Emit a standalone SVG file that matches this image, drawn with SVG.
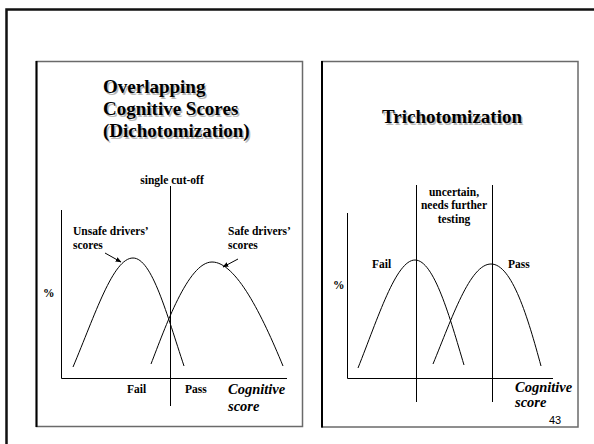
<svg xmlns="http://www.w3.org/2000/svg" width="594" height="444" viewBox="0 0 594 444">
  <style>
    .title { font-family: "Liberation Serif", "Times New Roman", serif; font-weight: bold; font-size: 19px; fill: #000; }
    .shadow { fill: #b8b8b8; }
    .lbl { font-family: "Liberation Serif", "Times New Roman", serif; font-weight: bold; font-size: 11.5px; fill: #000; }
    .axis-lbl { font-family: "Liberation Serif", "Times New Roman", serif; font-weight: bold; font-style: italic; font-size: 14.5px; fill: #000; }
    .num { font-family: "Liberation Sans", Arial, sans-serif; font-size: 11px; fill: #000; }
    .line { stroke: #000; stroke-width: 1; fill: none; }
    .curve { stroke: #000; stroke-width: 1; fill: none; }
    .panel { fill: #fff; stroke: #6a6a6a; stroke-width: 1.5; }
    .panel-edge { stroke: #000; stroke-width: 2; }
  </style>
  <defs>
    <marker id="arrow" viewBox="0 0 10 10" refX="9" refY="5" markerWidth="6" markerHeight="6" orient="auto" markerUnits="userSpaceOnUse">
      <path d="M0,1 L10,5 L0,9 Z" fill="#000"/>
    </marker>
  </defs>

  <rect width="594" height="444" fill="#fff"/>

  <!-- slide frame -->
  <g id="frame">
    <path d="M6.5,444 V9.5 H594" fill="none" stroke="#111" stroke-width="2.5"/>
  </g>

  <!-- left panel: dichotomization -->
  <g id="panel-dichotomization">
    <rect class="panel" x="36.5" y="61.5" width="266" height="365"/>
    <line class="panel-edge" x1="36.5" y1="61" x2="36.5" y2="427"/>
    <g transform="translate(1.5,1.5)">
      <text class="title shadow" x="103" y="93">Overlapping</text>
      <text class="title shadow" x="103" y="115">Cognitive Scores</text>
      <text class="title shadow" x="103" y="137">(Dichotomization)</text>
    </g>
    <text class="title" x="103" y="93">Overlapping</text>
    <text class="title" x="103" y="115">Cognitive Scores</text>
    <text class="title" x="103" y="137">(Dichotomization)</text>

    <text class="lbl" x="172" y="184" text-anchor="middle">single cut-off</text>
    <text class="lbl" x="73" y="235">Unsafe drivers’</text>
    <text class="lbl" x="73" y="248.5">scores</text>
    <text class="lbl" x="228" y="235">Safe drivers’</text>
    <text class="lbl" x="228" y="248.5">scores</text>
    <text class="lbl" x="43" y="297">%</text>
    <text class="lbl" x="127" y="393">Fail</text>
    <text class="lbl" x="185" y="393">Pass</text>
    <text class="axis-lbl" x="228" y="394">Cognitive</text>
    <text class="axis-lbl" x="228" y="411">score</text>
  </g>

  <!-- right panel: trichotomization -->
  <g id="panel-trichotomization">
    <rect class="panel" x="322" y="61.5" width="256" height="365.5"/>
    <line class="panel-edge" x1="322" y1="61" x2="322" y2="427.5"/>
    <text class="title shadow" x="453.5" y="124.5" text-anchor="middle">Trichotomization</text>
    <text class="title" x="452" y="123" text-anchor="middle">Trichotomization</text>

    <text class="lbl" x="454" y="195.5" text-anchor="middle">uncertain,</text>
    <text class="lbl" x="454" y="209" text-anchor="middle">needs further</text>
    <text class="lbl" x="454" y="222.5" text-anchor="middle">testing</text>
    <text class="lbl" x="333" y="289">%</text>
    <text class="lbl" x="372" y="268">Fail</text>
    <text class="lbl" x="508" y="268">Pass</text>
    <text class="axis-lbl" x="515" y="392">Cognitive</text>
    <text class="axis-lbl" x="515" y="407">score</text>
    <text class="num" x="549" y="424">43</text>
  </g>

  <!-- axes, cut-off lines, distributions and pointers -->
  <g id="connectors">
    <!-- left chart -->
    <polyline class="line" points="61.5,210 61.5,378.5 287,378.5"/>
    <line class="line" x1="170.5" y1="186" x2="170.5" y2="406"/>
    <path class="curve" d="M73,367 C95,315 113,258 133,258 C152,258 167,315 184,366"/>
    <path class="curve" d="M151,364 C165,328 188,262 212,262 C236,262 262,315 283,366"/>
    <line class="line" x1="105" y1="253" x2="121" y2="262" stroke-width="1.8" marker-end="url(#arrow)"/>
    <line class="line" x1="238" y1="259" x2="223" y2="267" stroke-width="1.8" marker-end="url(#arrow)"/>

    <!-- right chart -->
    <polyline class="line" points="347.5,213 347.5,378.5 553,378.5"/>
    <line class="line" x1="416.5" y1="185" x2="416.5" y2="402"/>
    <line class="line" x1="492.5" y1="185" x2="492.5" y2="402"/>
    <path class="curve" d="M358,368 C378,318 396,260 415,260 C434,260 450,318 464,365"/>
    <path class="curve" d="M433,364 C452,318 470,264 491,264 C512,264 528,318 541,366"/>
  </g>
</svg>
